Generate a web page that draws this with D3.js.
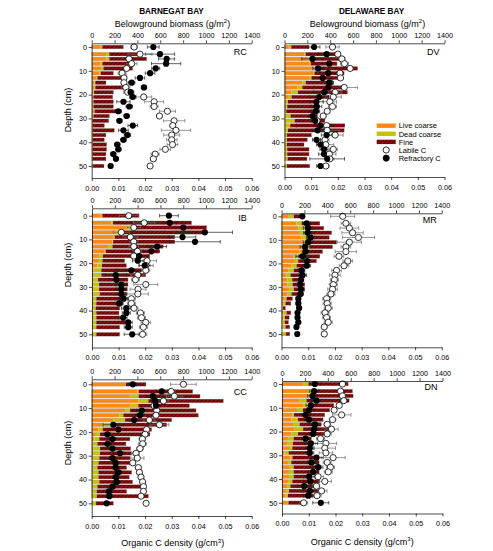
<!DOCTYPE html>
<html><head><meta charset="utf-8">
<script src="https://cdn.jsdelivr.net/npm/d3@7"></script>
<style>body{margin:0;background:#fff} svg text{font-family:"Liberation Sans",Arial,sans-serif;fill:#000}</style>
</head><body><svg id="c" width="493" height="551"></svg>
<script>
// ---------- categories & ticks ----------
const depths = [0,3,5,7,9,11,13,15,17,19,21,23,25,27,29,31,33,35,37,39,41,43,45,47,50];
const biomassTicks = [0,200,400,600,800,1000,1200,1400];
const carbonTicks = [0,0.01,0.02,0.03,0.04,0.05,0.06];
const depthTicks = [0,10,20,30,40,50];
const legendLabels = ["Live coarse","Dead coarse","Fine","Labile C","Refractory C"];
const bayTitles = ["BARNEGAT BAY","DELAWARE BAY"];

// ---------- RC ----------
const rcLive = [79,131,131,79,88,67,38,23,26,15,9,6,6,20,6,3,3,3,3,3,3,3,3,3,3];
const rcDead = [14,23,23,15,15,12,12,9,6,6,6,9,9,6,9,6,6,6,6,6,6,6,6,6,9];
const rcFine = [184,269,327,241,256,111,242,93,245,169,169,175,175,216,140,140,102,189,116,102,122,122,116,116,96];
const rcLab = [0.0159,0.0181,0.014,0.015,0.0131,0.0114,0.0121,0.0121,0.0128,0.0135,0.0195,0.0234,0.0234,0.0284,0.0254,0.0309,0.0304,0.0316,0.030,0.030,0.0303,0.0276,0.0238,0.0231,0.0219];
const rcLabErr = [0.0012,0.0045,0.001,0.002,0.001,0.0015,0.001,0.001,0.0015,0.0015,0.003,0.0035,0.0015,0.003,0.001,0.004,0.001,0.0055,0.003,0.002,0.002,0.002,0.0015,0.001,0.0008];
const rcRef = [0.0231,0.0256,0.0281,0.0279,0.024,0.0219,0.0181,0.015,0.0196,0.0146,0.0154,0.0119,0.0141,0.010,0.0131,0.0104,0.0154,0.0119,0.0134,0.0119,0.0096,0.010,0.0081,0.0091,0.0071];
const rcRefErr = [0.0022,0.0055,0.003,0.0055,0.0015,0.0018,0.0018,0.0012,0.001,0.0012,0.0012,0.0025,0.0012,0.0012,0.001,0.001,0.0018,0.0018,0.0012,0.001,0.001,0.001,0.001,0.0008,0.0006];

// ---------- DV ----------
const dvLive = [38,177,212,221,274,250,221,156,112,59,38,15,15,9,9,9,6,3,3,3,3,3,3,3,3];
const dvDead = [21,9,9,9,6,12,15,30,44,59,24,15,9,6,44,80,44,27,18,18,18,21,21,24,18];
const dvFine = [156,256,259,227,360,260,236,241,345,433,330,265,285,289,237,265,472,492,215,179,150,191,191,170,200];
const dvLab = [0.018,0.020,0.0215,0.0225,0.0246,0.0208,0.021,0.017,0.0224,0.019,0.0183,0.017,0.018,0.016,0.0145,0.0122,0.0158,0.016,0.019,0.0152,0.0155,0.0183,0.0168,0.017,0.0155];
const dvLabErr = [0.0025,0.001,0.0012,0.0015,0.001,0.001,0.001,0.001,0.005,0.0025,0.003,0.0025,0.0015,0.001,0.001,0.001,0.001,0.0045,0.003,0.0015,0.003,0.0015,0.0025,0.0015,0.0012];
const dvRef = [0.0111,0.0158,0.0105,0.0168,0.0126,0.0164,0.0143,0.0168,0.0164,0.0149,0.013,0.012,0.012,0.0117,0.0105,0.0115,0.0135,0.0124,0.0158,0.012,0.0135,0.0148,0.0148,0.016,0.0135];
const dvRefErr = [0.0022,0.003,0.004,0.0028,0.002,0.003,0.0035,0.0015,0.0055,0.004,0.0035,0.0025,0.002,0.0015,0.0015,0.0015,0.009,0.002,0.002,0.0015,0.0015,0.0015,0.002,0.0065,0.0015];

// ---------- IB ----------
const ibLive = [76,170,302,214,185,179,141,111,67,62,47,15,9,9,9,9,15,9,9,9,9,9,9,9,9];
const ibDead = [15,15,44,38,15,6,38,9,29,29,41,67,73,44,53,53,53,29,29,23,29,29,29,29,29];
const ibFine = [322,688,659,753,526,541,445,469,411,196,214,352,390,263,254,248,234,249,234,211,199,205,299,205,205];
const ibLab = [0.0138,0.0196,0.0157,0.011,0.0144,0.0157,0.0157,0.0171,0.0157,0.0207,0.0202,0.0202,0.0172,0.0163,0.0202,0.0173,0.0172,0.0148,0.0148,0.0158,0.0182,0.0186,0.0202,0.0193,0.019];
const ibLabErr = [0.0036,0.004,0.0025,0.003,0.0028,0.0015,0.0018,0.0015,0.0015,0.0035,0.0028,0.0015,0.0028,0.0015,0.0045,0.003,0.004,0.0015,0.0015,0.0015,0.0015,0.0015,0.0018,0.0015,0.0016];
const ibRef = [0.0289,0.0292,0.0343,0.0424,0.034,0.0387,0.0245,0.0223,0.0177,0.0172,0.0198,0.0148,0.0089,0.0092,0.011,0.011,0.011,0.0119,0.0102,0.0129,0.0129,0.0117,0.0136,0.0136,0.0151];
const ibRefErr = [0.0035,0.0025,0.003,0.0104,0.005,0.0095,0.0035,0.003,0.0035,0.002,0.002,0.0055,0.004,0.003,0.002,0.002,0.002,0.0015,0.0015,0.0018,0.0015,0.0015,0.0015,0.0015,0.003];

// ---------- MR ----------
const mrLive = [58,131,146,160,175,190,204,160,102,117,88,58,44,50,50,67,53,29,20,6,15,15,9,9,9];
const mrDead = [50,44,58,53,50,44,44,44,44,29,44,50,35,44,47,41,35,15,15,6,29,15,20,26,29];
const mrFine = [82,160,166,225,192,247,198,155,189,160,116,90,111,96,107,96,102,52,47,23,38,37,32,38,35];
const mrLab = [0.0229,0.0241,0.0254,0.0266,0.0288,0.0254,0.0241,0.0241,0.0215,0.0248,0.0234,0.0206,0.020,0.0198,0.0194,0.0191,0.0185,0.0169,0.0171,0.0175,0.0163,0.0169,0.0175,0.016,0.016];
const mrLabErr = [0.0045,0.0018,0.0035,0.004,0.006,0.0045,0.0018,0.004,0.0018,0.0018,0.0018,0.0018,0.002,0.0015,0.0015,0.0018,0.0015,0.0015,0.0015,0.0015,0.0015,0.0015,0.0015,0.001,0.0008];
const mrRef = [0.0078,0.0094,0.010,0.0098,0.0109,0.010,0.0088,0.009,0.0079,0.0096,0.0094,0.0075,0.0079,0.0073,0.0069,0.0073,0.0071,0.0063,0.0063,0.0066,0.006,0.006,0.0063,0.0056,0.0059];
const mrRefErr = [0.0008,0.0015,0.0018,0.0015,0.0015,0.0018,0.0018,0.0012,0.0025,0.0015,0.0015,0.0012,0.0015,0.001,0.001,0.001,0.001,0.0008,0.0008,0.0008,0.0008,0.0008,0.0008,0.0006,0.0006];

// ---------- CC ----------
const ccLive = [292,400,341,408,341,292,242,190,102,58,29,23,9,15,9,9,9,6,6,6,6,6,6,6,3];
const ccDead = [6,12,70,88,67,44,35,102,93,38,44,44,41,58,64,58,50,44,53,53,61,44,38,38,35];
const ccFine = [177,472,537,656,447,577,656,408,461,429,437,268,250,268,277,268,282,256,291,270,291,396,262,452,152];
const ccLab = [0.0344,0.0298,0.031,0.0269,0.0234,0.0244,0.0241,0.0216,0.0254,0.0206,0.020,0.019,0.0191,0.0181,0.0166,0.0171,0.0154,0.0175,0.0179,0.0185,0.0191,0.0194,0.0194,0.0185,0.0204];
const ccLabErr = [0.0048,0.0015,0.003,0.002,0.0012,0.0012,0.0012,0.0022,0.0035,0.0012,0.0012,0.0012,0.0015,0.0012,0.0012,0.0025,0.001,0.001,0.001,0.001,0.001,0.001,0.001,0.0008,0.0006];
const ccRef = [0.0154,0.0263,0.0229,0.0238,0.0241,0.0188,0.0181,0.0159,0.0081,0.010,0.0059,0.0078,0.006,0.0078,0.0106,0.0078,0.009,0.009,0.010,0.009,0.0094,0.0078,0.0065,0.0066,0.0056];
const ccRefErr = [0.0015,0.0022,0.0025,0.0015,0.0015,0.002,0.0015,0.0015,0.0038,0.003,0.0012,0.0012,0.0012,0.0012,0.0015,0.0012,0.0012,0.0012,0.0012,0.0012,0.0012,0.0012,0.0012,0.0012,0.0008];

// ---------- DN ----------
const dnLive = [184,228,228,155,184,131,90,82,96,111,82,52,44,61,23,73,52,61,61,61,52,44,38,32,44];
const dnDead = [52,38,44,58,44,52,15,58,58,73,58,50,52,29,35,18,29,41,41,41,38,29,23,20,12];
const dnFine = [342,349,349,373,224,234,268,219,190,233,233,155,169,167,184,204,243,242,222,111,240,227,254,219,113];
const dnLab = [0.0226,0.0219,0.0226,0.0231,0.0214,0.0195,0.0223,0.0189,0.0169,0.0185,0.0169,0.0144,0.0164,0.016,0.0164,0.0191,0.0169,0.0181,0.0173,0.0135,0.016,0.0129,0.0148,0.0131,0.0081];
const dnLabErr = [0.001,0.001,0.001,0.001,0.001,0.001,0.0035,0.0012,0.0012,0.0025,0.0015,0.0015,0.004,0.004,0.0025,0.0045,0.0015,0.0015,0.0015,0.002,0.0025,0.0012,0.002,0.0015,0.0015];
const dnRef = [0.0123,0.012,0.0114,0.0129,0.0108,0.0101,0.0088,0.0101,0.0123,0.012,0.0116,0.0088,0.0108,0.0104,0.0104,0.0129,0.011,0.0135,0.0116,0.0101,0.0106,0.0083,0.0104,0.0098,0.0145];
const dnRefErr = [0.0022,0.0018,0.0018,0.0018,0.0018,0.0018,0.0015,0.0015,0.0015,0.0015,0.0015,0.0015,0.0025,0.0015,0.0015,0.0025,0.0015,0.0018,0.0018,0.002,0.0025,0.0025,0.0025,0.0018,0.003];

// ---------- styles ----------
const COL_LIVE = "#ff8a12", COL_DEAD = "#c3c300";

const svg = d3.select("#c");
const defs = svg.append("defs");
const pat = defs.append("pattern").attr("id","hatch").attr("patternUnits","userSpaceOnUse")
  .attr("width",2.8).attr("height",2.8).attr("patternTransform","rotate(45)");
pat.append("rect").attr("width",2.8).attr("height",2.8).attr("fill","#8a0c0c");
pat.append("line").attr("x1",0.5).attr("y1",0).attr("x2",0.5).attr("y2",2.8).attr("stroke","#4a0000").attr("stroke-width",0.8);

// panel layout
const panels = [
  {name:"RC", live:rcLive, dead:rcDead, fine:rcFine, lab:rcLab, labE:rcLabErr, ref:rcRef, refE:rcRefErr,
   x0:91.7, x1:251.7, top:43.3, bot:178, y0:47, y50:166, depthLabel:110, lblY:55},
  {name:"DV", live:dvLive, dead:dvDead, fine:dvFine, lab:dvLab, labE:dvLabErr, ref:dvRef, refE:dvRefErr,
   x0:284.5, x1:444.5, top:43.3, bot:177, y0:47, y50:166, lblY:55, legend:true},
  {name:"IB", live:ibLive, dead:ibDead, fine:ibFine, lab:ibLab, labE:ibLabErr, ref:ibRef, refE:ibRefErr,
   x0:92, x1:251.7, top:208.3, bot:347.5, y0:215.7, y50:334.3, depthLabel:265, lblY:221},
  {name:"MR", live:mrLive, dead:mrDead, fine:mrFine, lab:mrLab, labE:mrLabErr, ref:mrRef, refE:mrRefErr,
   x0:281.5, x1:441.8, top:213.3, bot:347.3, y0:216.3, y50:334, lblY:223},
  {name:"CC", live:ccLive, dead:ccDead, fine:ccFine, lab:ccLab, labE:ccLabErr, ref:ccRef, refE:ccRefErr,
   x0:91.7, x1:251.7, top:379.3, bot:516, y0:384.3, y50:503.3, depthLabel:443, lblY:395, xTitle:546},
  {name:"DN", live:dnLive, dead:dnDead, fine:dnFine, lab:dnLab, labE:dnLabErr, ref:dnRef, refE:dnRefErr,
   x0:282, x1:442.5, top:381, bot:513.5, y0:384, y50:502.8, lblY:390, xTitle:544.5}
];

const BAR_H = 3.7, R = 3.1, CAP = 3.6;

panels.forEach(p => {
  const xB = d3.scaleLinear().domain([0,1400]).range([p.x0,p.x1]);
  const xC = d3.scaleLinear().domain([0,0.06]).range([p.x0,p.x1]);
  const yb = d3.scaleLinear().domain([0,50]).range([p.y0,p.y50]);
  const y = d3.scaleLinear().domain([yb.invert(p.top), yb.invert(p.bot)]).range([p.top,p.bot]);
  const g = svg.append("g");

  const rows = depths.map((d,i)=>({depth:d, live:p.live[i], dead:p.dead[i], fine:p.fine[i],
    lab:p.lab[i], labE:p.labE[i], ref:p.ref[i], refE:p.refE[i]}));
  const series = d3.stack().keys(["live","dead","fine"])(rows);
  const fills = {live:COL_LIVE, dead:COL_DEAD, fine:"url(#hatch)"};
  series.forEach(s => {
    g.append("g").selectAll("rect").data(s).join("rect")
      .attr("x", d => xB(d[0]))
      .attr("width", d => Math.max(0, xB(d[1]) - xB(d[0])))
      .attr("y", d => y(d.data.depth) - BAR_H/2)
      .attr("height", BAR_H)
      .attr("fill", fills[s.key]);
  });
  g.append("g").selectAll("rect").data(rows).join("rect")
    .attr("x", xB(0)).attr("width", d => xB(d.live+d.dead+d.fine)-xB(0))
    .attr("y", d => y(d.depth)-BAR_H/2).attr("height", BAR_H)
    .attr("fill","none").attr("stroke","#9a9a9a").attr("stroke-width",0.3);

  // error bars
  const eb = (key, ekey, col) => {
    const eg = g.append("g").attr("stroke", col).attr("stroke-width", 0.7).attr("fill","none");
    eg.selectAll("line.h").data(rows).join("line").attr("class","h")
      .attr("x1", d => xC(d[key]-d[ekey])).attr("x2", d => xC(d[key]+d[ekey]))
      .attr("y1", d => y(d.depth)).attr("y2", d => y(d.depth));
    eg.selectAll("line.l").data(rows).join("line").attr("class","l")
      .attr("x1", d => xC(d[key]-d[ekey])).attr("x2", d => xC(d[key]-d[ekey]))
      .attr("y1", d => y(d.depth)-CAP/2).attr("y2", d => y(d.depth)+CAP/2);
    eg.selectAll("line.r").data(rows).join("line").attr("class","r")
      .attr("x1", d => xC(d[key]+d[ekey])).attr("x2", d => xC(d[key]+d[ekey]))
      .attr("y1", d => y(d.depth)-CAP/2).attr("y2", d => y(d.depth)+CAP/2);
  };
  eb("lab","labE","#6a6a6a");
  eb("ref","refE","#222");

  g.append("g").selectAll("circle").data(rows).join("circle")
    .attr("cx", d => xC(d.lab)).attr("cy", d => y(d.depth)).attr("r", R)
    .attr("fill","#fff").attr("stroke","#000").attr("stroke-width",0.8);
  g.append("g").selectAll("circle").data(rows).join("circle")
    .attr("cx", d => xC(d.ref)).attr("cy", d => y(d.depth)).attr("r", R)
    .attr("fill","#000");

  // axes
  const styleAxis = a => {
    a.selectAll("text").attr("font-size",7.2).style("font-family",'"Liberation Sans",Arial,sans-serif');
    a.selectAll("path,line").attr("stroke","#000").attr("stroke-width",0.7);
  };
  g.append("g").attr("transform",`translate(0,${p.top})`)
    .call(d3.axisTop(xB).tickValues(biomassTicks).tickSize(3).tickSizeOuter(0).tickPadding(2.5).tickFormat(d3.format("d")))
    .call(styleAxis);
  g.append("g").attr("transform",`translate(0,${p.bot})`)
    .call(d3.axisBottom(xC).tickValues(carbonTicks).tickSize(3).tickSizeOuter(0).tickPadding(4.5).tickFormat(d3.format(".2f")))
    .call(styleAxis);
  g.append("g").attr("transform",`translate(${p.x0},0)`)
    .call(d3.axisLeft(y).tickValues(depthTicks).tickSize(3).tickSizeOuter(0).tickPadding(1.8))
    .call(styleAxis);

  g.append("text").attr("x", p.x1 - 5).attr("y", p.lblY).attr("text-anchor","end")
    .attr("font-size",9).text(p.name);

  if (p.depthLabel) {
    g.append("text").attr("transform",`translate(71,${p.depthLabel}) rotate(-90)`)
      .attr("text-anchor","middle").attr("font-size",9).text("Depth (cm)");
  }
  if (p.xTitle) {
    const t = g.append("text").attr("x", (p.x0+p.x1)/2 + (p.name==="CC"?1:0)).attr("y", p.xTitle)
      .attr("text-anchor","middle").attr("font-size",9);
    t.append("tspan").text("Organic C density (g/cm");
    t.append("tspan").attr("font-size",6).attr("dy",-3.5).text("3");
    t.append("tspan").attr("dy",3.5).text(")");
  }

  if (p.legend) {
    const lx = 376.7, ly0 = 125.7, dy = 8.1;
    const lg = g.append("g");
    const swFill = [COL_LIVE, COL_DEAD, "url(#hatch)"];
    legendLabels.forEach((lab,i) => {
      const yy = ly0 + i*dy;
      if (i < 3) {
        lg.append("rect").attr("x",lx).attr("y",yy-2.2).attr("width",19).attr("height",4.4).attr("fill",swFill[i]);
      } else {
        lg.append("circle").attr("cx",lx+9.5).attr("cy",yy).attr("r",R)
          .attr("fill", i===3 ? "#fff" : "#000").attr("stroke","#000").attr("stroke-width",0.8);
      }
      lg.append("text").attr("x",lx+22).attr("y",yy+2.7).attr("font-size",7.5).text(lab);
    });
  }
});

// titles
const titleCx = [171.5, 371.5], subCx = [172.5, 367.5];
bayTitles.forEach((t,i) => {
  svg.append("text").attr("x",titleCx[i]).attr("y",14).attr("text-anchor","middle")
    .attr("font-size",8.2).attr("font-weight","bold").text(t);
  const s = svg.append("text").attr("x",subCx[i]).attr("y",26.5).attr("text-anchor","middle").attr("font-size",9);
  s.append("tspan").text("Belowground biomass (g/m");
  s.append("tspan").attr("font-size",6).attr("dy",-3.5).text("2");
  s.append("tspan").attr("dy",3.5).text(")");
});
</script></body></html>
